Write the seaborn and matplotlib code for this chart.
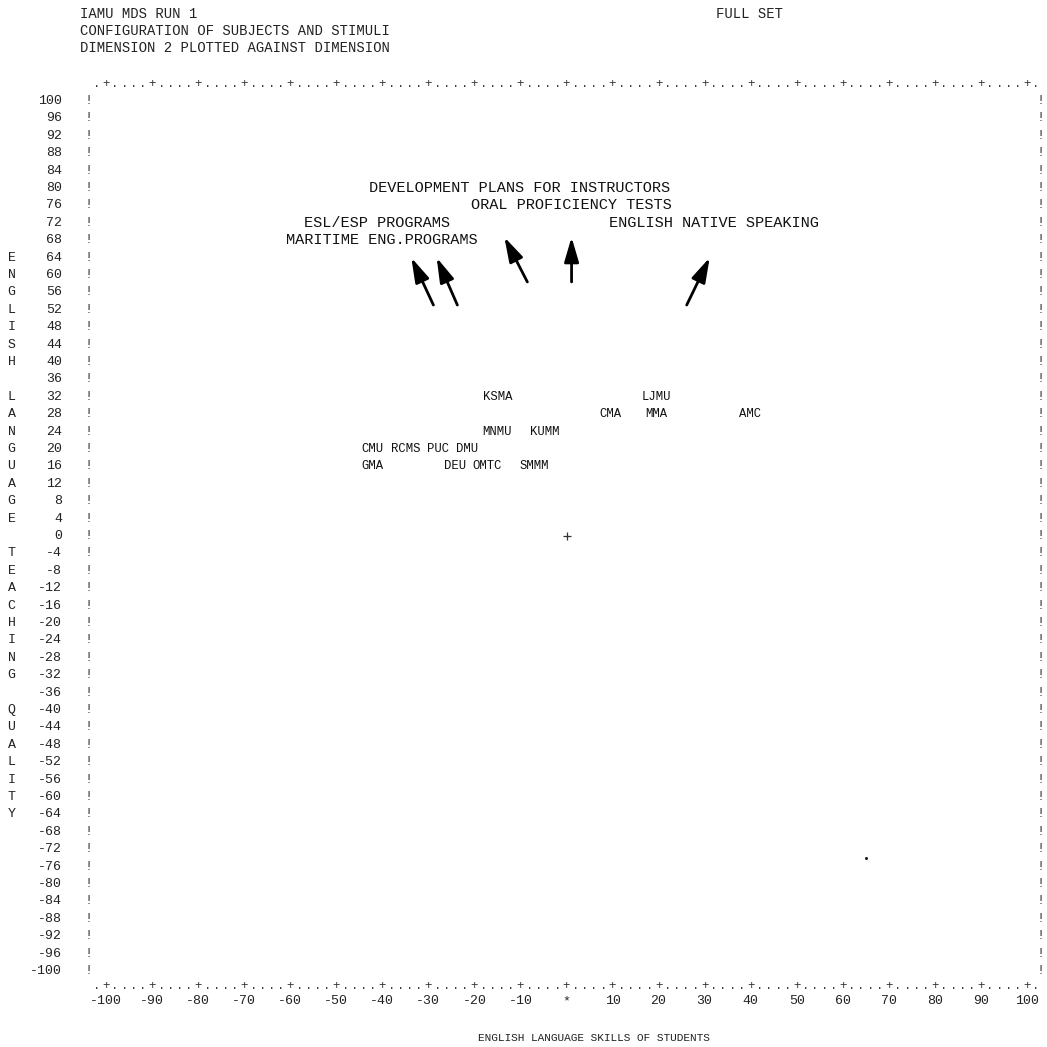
import matplotlib
matplotlib.use("Agg")
import matplotlib.pyplot as plt
import seaborn as sns
import pandas as pd

# ---------------- data ----------------
header_lines = ["IAMU MDS RUN 1",
                "CONFIGURATION OF SUBJECTS AND STIMULI",
                "DIMENSION 2 PLOTTED AGAINST DIMENSION"]
header_right = "FULL SET"

subject_names = ["KSMA", "LJMU", "CMA", "MMA", "AMC", "MNMU", "KUMM",
                 "CMU", "RCMS", "PUC", "DMU", "GMA", "DEU", "OMTC", "SMMM"]
subject_x = [-18.2, 16.3, 7.2, 17.2, 37.4, -18.2, -8.0,
             -44.5, -38.2, -30.2, -23.9, -44.5, -26.7, -20.4, -10.2]
subject_y = [32, 32, 28, 28, 28, 24, 24, 20, 20, 20, 20, 16, 16, 16, 16]

stimulus_names = ["DEVELOPMENT PLANS FOR INSTRUCTORS", "ORAL PROFICIENCY TESTS",
                  "ESL/ESP PROGRAMS", "ENGLISH NATIVE SPEAKING",
                  "MARITIME ENG.PROGRAMS"]
stimulus_x = [-42.8, -20.7, -57.0, 9.3, -60.9]
stimulus_y = [80, 76, 72, 72, 68]

arrow_tail_x = [-28.9, -23.7, -8.5, 1.1, 26.1]
arrow_tail_y = [53.1, 53.1, 58.4, 58.4, 53.1]
arrow_head_x = [-33.7, -28.2, -13.5, 1.1, 31.1]
arrow_head_y = [64.0, 64.0, 68.7, 68.7, 64.0]

y_ticks = list(range(100, -101, -4))
x_ticks = list(range(-100, 101, 10))
x_tick_labels = [("*" if v == 0 else str(v)) for v in x_ticks]
y_title = "ENGLISH LANGUAGE TEACHING QUALITY"
x_title = "ENGLISH LANGUAGE SKILLS OF STUDENTS"

marker_x = [0, 65]
marker_y = [0, -74]
marker_kind = ["origin", "dot"]

# ---------------- figure ----------------
sns.set_theme(style="white")
plt.rcParams["font.family"] = ["Liberation Mono", "DejaVu Sans Mono"]

fig = plt.figure(figsize=(10.47, 10.47), dpi=100)
fig.patch.set_facecolor("white")
ax = fig.add_axes([106 / 1047, 1 - 971 / 1047, 921 / 1047, 870 / 1047])

# markers through seaborn
mk = pd.DataFrame({"x": marker_x, "y": marker_y, "kind": marker_kind})
sns.scatterplot(data=mk[mk.kind == "origin"], x="x", y="y", marker="+",
                s=40, color="#333333", linewidth=0.9, ax=ax, legend=False)
sns.scatterplot(data=mk[mk.kind == "dot"], x="x", y="y", marker="o",
                s=5, color="#222222", linewidth=0, ax=ax, legend=False)
ax.set_xlim(-100, 100)
ax.set_ylim(-100, 100)
ax.axis("off")

# header
for i, line in enumerate(header_lines):
    fig.text(80 / 1047, 1 - (14 + 17 * i) / 1047, line, fontsize=10,
             ha="left", va="center", color="#222222")
fig.text(716 / 1047, 1 - 14 / 1047, header_right, fontsize=10,
         ha="left", va="center", color="#222222")

# borders made of characters (each char = 2 units)
for c in range(103):
    xv = -102 + 2 * c
    ch = "+" if (c - 1) % 5 == 0 else "."
    for yv in (104, -103.4):
        ax.text(xv, yv, ch, fontsize=9, ha="center", va="center",
                color="#333333")

# side bars and y tick labels
for yv in y_ticks:
    ax.text(-103.8, yv, "!", fontsize=9.5, ha="center", va="center", color="#333333")
    ax.text(102.9, yv, "!", fontsize=9.5, ha="center", va="center", color="#333333")
    ax.text(-109.5, yv, str(yv), fontsize=9.5, ha="right", va="center", color="#222222")

# vertical axis title, one letter per row from 64 down
for i, ch in enumerate(y_title):
    yv = 64 - 4 * i
    if ch != " ":
        ax.text(-120.5, yv, ch, fontsize=9.5, ha="center", va="center", color="#222222")

# x tick labels
for xv, lab in zip(x_ticks, x_tick_labels):
    ax.text(xv, -107.0, lab, fontsize=9.5, ha="center", va="center", color="#222222")
ax.text(6, -115.3, x_title, fontsize=8, ha="center", va="center", color="#222222")

# subject labels
for name, xv, yv in zip(subject_names, subject_x, subject_y):
    ax.text(xv, yv, name, fontsize=8.8, ha="left", va="center", color="#111111")

# stimulus labels
for name, xv, yv in zip(stimulus_names, stimulus_x, stimulus_y):
    ax.text(xv, yv, name, fontsize=11, ha="left", va="center", color="#111111")

# stimulus arrows
for tx, ty, hx, hy in zip(arrow_tail_x, arrow_tail_y, arrow_head_x, arrow_head_y):
    ax.annotate("", xy=(hx, hy), xytext=(tx, ty),
                arrowprops=dict(arrowstyle="-|>,head_length=0.75,head_width=0.22",
                                lw=2, color="black", mutation_scale=20,
                                shrinkA=0, shrinkB=0))

fig.savefig("out.png", dpi=100, facecolor="white")
